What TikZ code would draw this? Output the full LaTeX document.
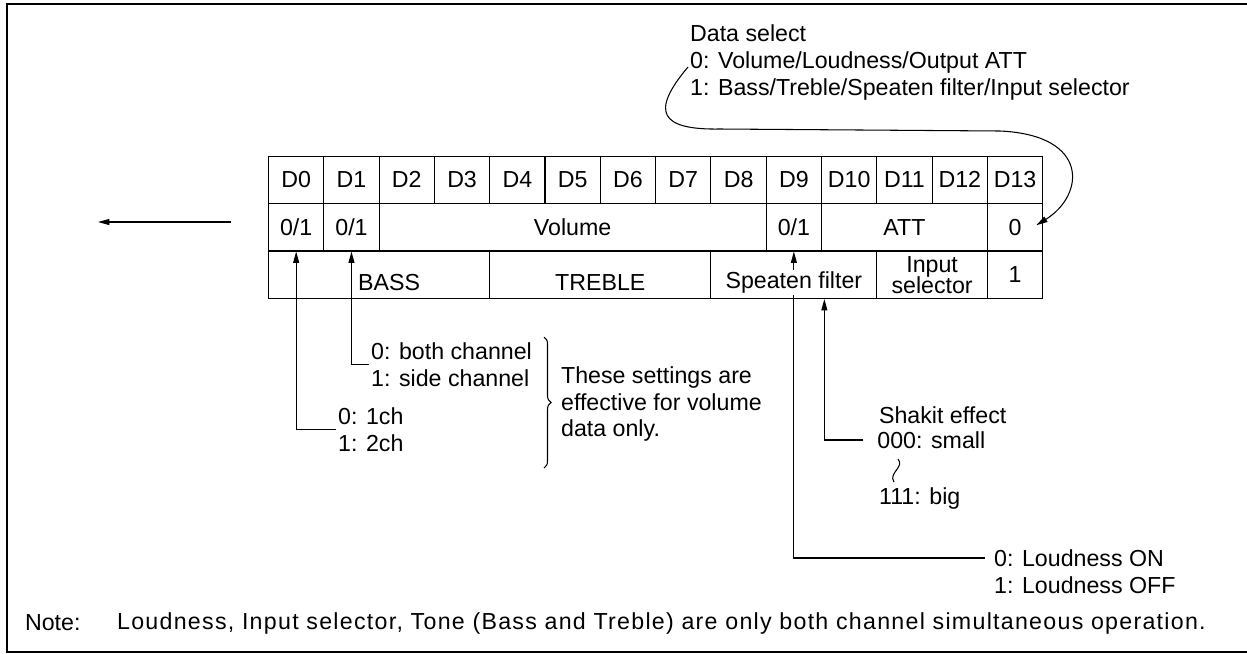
\documentclass[tikz,border=0pt]{standalone}
\usepackage{fontspec}
\setmainfont{Liberation Sans}
\usetikzlibrary{arrows.meta,positioning,backgrounds,decorations.pathreplacing}

\tikzset{
  cell/.style={draw, line width=0.6pt, anchor=north west, minimum height=0.95cm, minimum width=1.106cm, inner sep=0pt},
  lowlabel/.style={yshift=-4.5pt, fill=white, inner sep=1pt},
  pointer/.style={line width=0.6pt, -{Triangle[length=6.5pt,width=3.4pt]}},
  note/.style={anchor=west, align=left, inner xsep=1pt, inner ysep=1pt},
}

\begin{document}
\begin{tikzpicture}[x=0.02cm, y=-0.02cm, font=\fontsize{13.2}{15.3}\selectfont]
  \useasboundingbox (0,0) rectangle (1247,653);
  \draw[line width=1.1pt] (1247,4) -- (7,4) -- (7,652) -- (1247,652);

  % bit numbers
  \node[cell] (d0) at (268,155.5) {D0};
  \node[cell] (d1) at (323.3,155.5) {D1};
  \node[cell] (d2) at (378.6,155.5) {D2};
  \node[cell] (d3) at (433.9,155.5) {D3};
  \node[cell] (d4) at (489.2,155.5) {D4};
  \node[cell] (d5) at (544.5,155.5) {D5};
  \node[cell] (d6) at (599.8,155.5) {D6};
  \node[cell] (d7) at (655.1,155.5) {D7};
  \node[cell] (d8) at (710.4,155.5) {D8};
  \node[cell] (d9) at (765.7,155.5) {D9};
  \node[cell] (d10) at (821,155.5) {D10};
  \node[cell] (d11) at (876.3,155.5) {D11};
  \node[cell] (d12) at (931.6,155.5) {D12};
  \node[cell] (d13) at (986.9,155.5) {D13};

  % data select 0
  \node[cell] (m0) at (268,203) {0/1};
  \node[cell] (m1) at (323.3,203) {0/1};
  \node[cell, minimum width=7.742cm] (vol) at (378.6,203) {Volume};
  \node[cell] (m9) at (765.7,203) {0/1};
  \node[cell, minimum width=3.318cm] (att) at (821,203) {ATT};
  \node[cell] (m13) at (986.9,203) {0};

  % data select 1
  \node[cell, minimum width=4.424cm, label={[lowlabel, xshift=0.2cm]center:BASS}] (bass) at (268,250.5) {};
  \node[cell, minimum width=4.424cm, label={[lowlabel]center:TREBLE}] (treble) at (489.2,250.5) {};
  \node[cell, minimum width=3.318cm, label={[lowlabel]center:Speaten filter}] (spf) at (710.4,250.5) {};
  \node[cell, minimum width=2.212cm, align=center] (insel) at (876.3,250.5) {Input\\[-3.5pt]selector};
  \node[cell] (b13) at (986.9,250.5) {1};

  \coordinate (outR) at (231,222);
  \coordinate (outL) at (98,222);
  \coordinate (shk) at ([xshift=0.61cm]spf.south);

  \node[note] (dseltitle) at (688,33) {Data select};
  \node[note] (dselzero) at (688,62) {0: Volume/Loudness/Output ATT};
  \node[note] (dselone) at (688,89) {1: Bass/Treble/Speaten filter/Input selector};

  \node[note] (bothch) at (369,364.5) {0: both channel\\1: side channel};
  \node[note] (onech) at (336,429.5) {0: 1ch\\1: 2ch};
  \node[note] (settings) at (559,404) {These settings are\\effective for volume\\data only.};

  \node[note] (shakit) at (877,415) {Shakit effect};
  \node[note, inner xsep=8pt, inner ysep=0pt] (small) at (863,440) {000: small};
  \node[note, inner ysep=0pt] (big) at (877,498) {111: big};
  % range mark
  \draw[line width=0.6pt] (898,459) .. controls (905,467) and (888,473) .. (894,482);

  \node[note, inner xsep=5pt] (loudon) at (985,558) {0: Loudness ON};
  \node[note, inner xsep=5pt] (loudoff) at (985,585) {1: Loudness OFF};

  \node[note] (notehead) at (23,623) {Note:};
  \node[note] (notetext) at (115,623) {\addfontfeature{LetterSpace=5.5}Loudness, Input selector, Tone (Bass and Treble) are only both channel simultaneous operation.};

  \draw[line width=0.6pt, decorate, decoration={brace, amplitude=4pt}] (544,337) -- (544,468);

  \begin{scope}[on background layer]
    \draw[pointer] (outR) -- (outL);
    \draw[pointer] (onech.west) -| (m0.south);
    \draw[pointer] (bothch.west) -| (m1.south);
    \draw[pointer] (loudon.west) -| (m9.south);
    \draw[pointer] (small.west) -| (shk);
    \draw[pointer] ([yshift=-0.1cm]dselzero.west) .. controls (650,112) and (660,130) .. (720,129)
      -- (1000,131) .. controls (1090,135) and (1085,195) .. ([xshift=-0.14cm,yshift=0.04cm]m13.east);
  \end{scope}
\end{tikzpicture}
\end{document}
